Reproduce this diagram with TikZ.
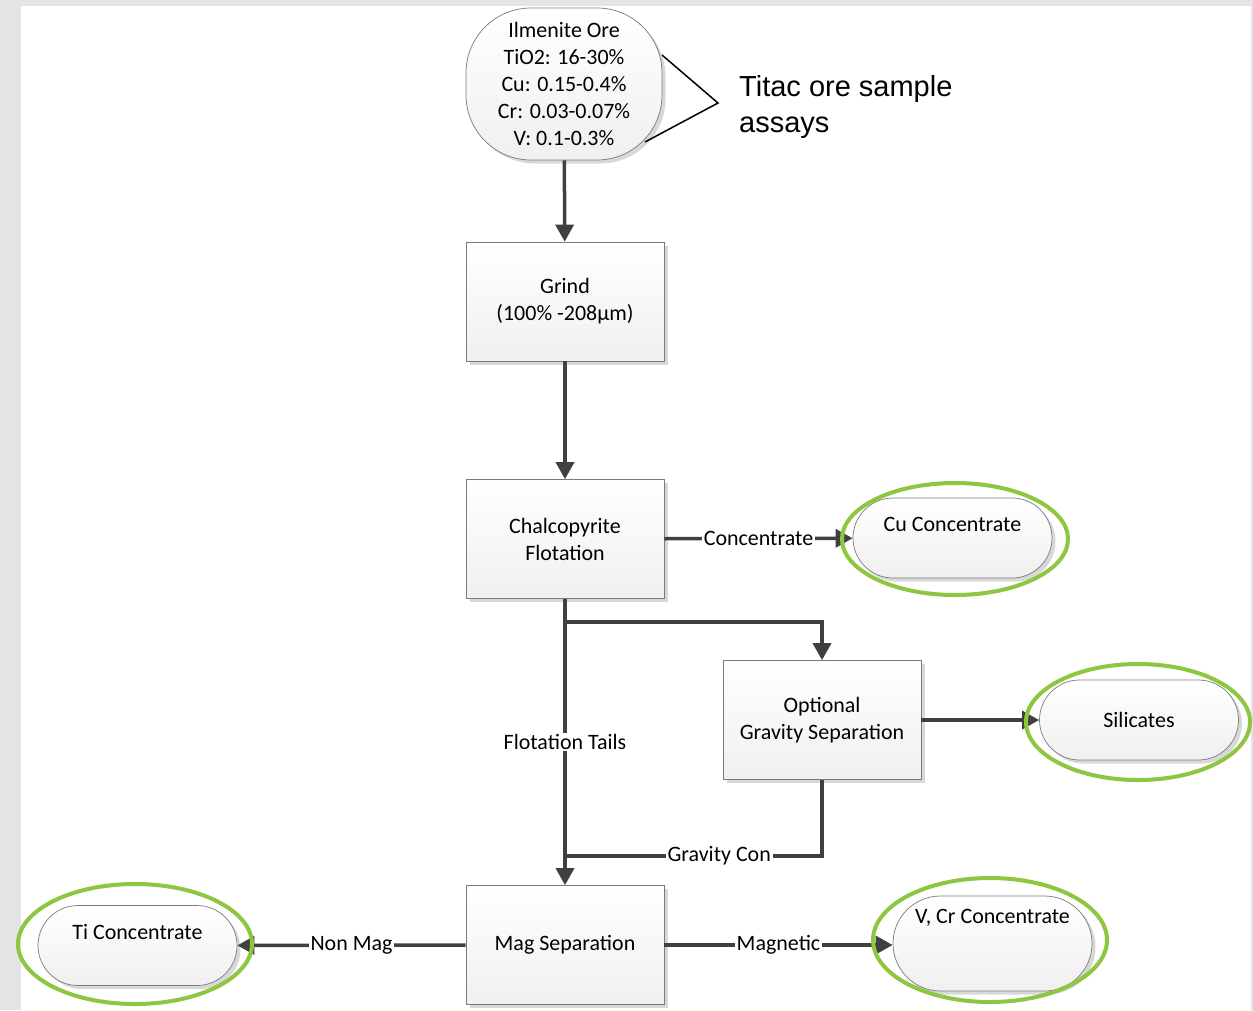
\documentclass[tikz,border=0pt]{standalone}
\usepackage{fontspec}
\setmainfont{Carlito}
\newfontfamily\notefont{Liberation Sans}
\usetikzlibrary{arrows.meta,shadows}
\definecolor{pagegray}{HTML}{E6E3E6}
\definecolor{linegray}{HTML}{404040}
\definecolor{boxborder}{HTML}{7A7A7A}
\definecolor{ringgreen}{HTML}{8DC63F}

\begin{document}
\begin{tikzpicture}[x=0.2mm,y=-0.2mm]
        \tikzstyle{unit} = [draw=boxborder, top color=white, bottom color=gray!12, minimum width=39.6mm, minimum height=23.8mm, align=center, font=\fontsize{12.5}{15.4}\selectfont, drop shadow={shadow xshift=0.7mm, shadow yshift=-0.7mm, opacity=0.3, fill=gray}]
        \tikzstyle{product} = [unit, rounded corners=8mm, minimum width=39.8mm, minimum height=16mm, inner sep=1mm]
        \tikzstyle{flow} = [draw=linegray, line width=0.7mm, -{Triangle[length=3.4mm,width=3.6mm]}]
        \tikzstyle{plain} = [draw=linegray, line width=0.7mm]
        \tikzstyle{tag} = [fill=white, inner sep=1pt, font=\fontsize{12.5}{15.4}\selectfont]
        \tikzstyle{ring} = [draw=ringgreen, line width=0.8mm]

        \useasboundingbox (0,0) rectangle (1253,1010);
        \fill[pagegray] (0,0) rectangle (1253,1010);
        \fill[white] (21,6) rectangle (1251,1010);

        \node[unit, rounded corners=13mm, minimum width=39.2mm, minimum height=30.4mm] (ore) at (564,84) {Ilmenite Ore\\TiO2: 16-30\%\\Cu: 0.15-0.4\%\\Cr: 0.03-0.07\%\\V: 0.1-0.3\%};
        \node[unit] (grind) at (565,301.5) {Grind\\(100\% -208µm)};
        \node[unit] (chalco) at (565,539) {Chalcopyrite\\Flotation};
        \node[unit] (gravity) at (822,720) {Optional\\Gravity Separation};
        \node[unit] (mag) at (565,945) {Mag Separation};

        \node[product] (cu) at (952.5,538) {Cu Concentrate\\\mbox{}};
        \node[product] (sil) at (1139,720) {Silicates};
        \node[product] (ti) at (137.5,945.5) {Ti Concentrate\\\mbox{}};
        \node[product, minimum height=19mm, rounded corners=9.5mm] (vcr) at (992.5,943.5) {V, Cr Concentrate\\\mbox{}\\\mbox{}};

        \node[anchor=west, align=left, font=\notefont\fontsize{16.5}{20.5}\selectfont] (note) at (733,107) {Titac ore sample\\assays};
        \coordinate (noteA) at (662,55);
        \coordinate (noteB) at (718,103);
        \coordinate (noteC) at (645,142);
        \draw[line width=0.3mm] (noteA) -- (noteB) -- (noteC);

        \coordinate (split) at (565,622);
        \coordinate (join) at (565,856);

        \draw[flow] (ore) -- (grind);
        \draw[flow] (grind) -- (chalco);
        \draw[flow] (chalco) -- node[tag]{Concentrate} (cu);
        \draw[flow] (chalco) -- node[tag]{Flotation Tails} (mag);
        \draw[flow] (split) -| (gravity);
        \draw[flow] (gravity) -- (sil);
        \draw[plain] (gravity) |- node[tag, pos=0.7]{Gravity Con} (join);
        \draw[flow] (mag) -- node[tag]{Non Mag} (ti);
        \draw[flow] (mag.east) -- node[tag]{Magnetic} (mag.east -| vcr.west);

        \draw[ring] (955,539) ellipse [x radius=22.6mm, y radius=11.2mm];
        \draw[ring] (1138,722) ellipse [x radius=22.4mm, y radius=11.6mm];
        \draw[ring] (135,944) ellipse [x radius=23.4mm, y radius=12mm];
        \draw[ring] (990,940) ellipse [x radius=23.4mm, y radius=12.4mm];

    \end{tikzpicture}
\end{document}
